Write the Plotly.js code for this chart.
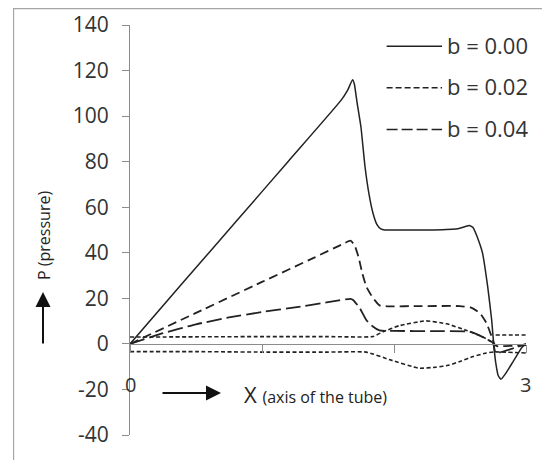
<!DOCTYPE html>
<html>
<head>
<meta charset="utf-8">
<script src="https://cdn.plot.ly/plotly-3.0.1.min.js"></script>
<style>
  html, body { margin: 0; padding: 0; background: #fff; }
  #chart { width: 542px; height: 460px; }
</style>
</head>
<body>
<div id="chart"></div>
<script>
// Pressure distribution P along the tube axis X

// b = 0.00 (solid)
const xB000 = [0, 0.4, 0.8, 1.2, 1.6, 1.65, 1.686, 1.70, 1.72, 1.75, 1.78, 1.81, 1.84, 1.87, 1.90, 1.93, 2.1, 2.3, 2.48, 2.54, 2.57, 2.60, 2.63, 2.67, 2.71, 2.74, 2.755, 2.77, 2.79, 2.81, 2.84, 2.90, 2.97, 3.0];
const pB000 = [0, 26.8, 53.5, 80.2, 107, 111.5, 116, 114, 106, 95, 78, 66, 57.6, 52.5, 50.5, 50, 50, 50, 50.5, 51.5, 52, 51, 47, 40, 25, 10.5, 0, -8, -14, -15.5, -13.5, -8, -1.5, 0];

// b = 0.02 (medium dash)
const xB002 = [0, 0.5, 1.0, 1.4, 1.6, 1.67, 1.70, 1.73, 1.76, 1.79, 1.84, 1.89, 1.95, 2.2, 2.5, 2.58, 2.65, 2.70, 2.74, 2.76, 2.78, 2.9, 3.0];
const pB002 = [0, 13.6, 27.2, 38, 43.5, 45.3, 43.5, 38.4, 31, 25.2, 20.2, 16.9, 16.5, 16.6, 16.6, 16, 13.6, 9.2, 3.2, 0, -1, -0.8, -0.5];

// b = 0.04 (long dash)
const xB004 = [0, 0.25, 0.5, 0.75, 1.0, 1.25, 1.5, 1.67, 1.69, 1.74, 1.79, 1.84, 1.89, 2.0, 2.3, 2.57, 2.65, 2.75, 2.77, 3.0];
const pB004 = [0, 4.7, 8.6, 11.6, 14, 16, 18.3, 19.8, 19.3, 15.8, 10.5, 7.6, 5.9, 5.7, 5.6, 5.4, 3.6, 0.4, -4, 0];

// upper and lower short-dash curves
const xUpper = [0, 0.5, 1.0, 1.5, 1.84, 1.92, 2.04, 2.24, 2.40, 2.55, 2.67, 2.755, 2.765, 2.77, 2.9, 3.0];
const pUpper = [3, 3.1, 3.2, 3.2, 3.2, 5.4, 8, 10.1, 8.8, 5.9, 3.2, 0.3, null, 3.9, 3.9, 3.9];
const xLower = [0, 0.5, 1.0, 1.5, 1.79, 1.97, 2.19, 2.32, 2.42, 2.5, 2.6, 2.7, 2.76, 3.0];
const pLower = [-3.4, -3.4, -3.6, -3.6, -3.6, -7, -10.7, -10.2, -9.3, -7.7, -5.5, -4, -3.5, -4];

const legendLabels = ['b = 0.00', 'b = 0.02', 'b = 0.04'];
const yTicks = [-40, -20, 0, 20, 40, 60, 80, 100, 120, 140];
const yTickText = ['-40', '-20', '0', '20', '40', '60', '80', '100', '120', '140'];
const xTicks = [0, 1, 2, 3];

const FONT = '"Open Sans", Lato, sans-serif';
const INK = '#222';

function curve(x, y, dash, width, name) {
  return {
    type: 'scatter', mode: 'lines', x: x, y: y, name: name,
    line: { color: INK, width: width, dash: dash, shape: 'spline', smoothing: 0.4 },
    connectgaps: false, showlegend: false, hoverinfo: 'skip'
  };
}

const traces = [
  curve(xLower, pLower, '4px,2.5px', 1.6, 'lower'),
  curve(xUpper, pUpper, '4px,2.5px', 1.6, 'upper'),
  curve(xB004, pB004, '15px,5px', 1.8, legendLabels[2]),
  curve(xB002, pB002, '9px,5px', 1.8, legendLabels[1]),
  curve(xB000, pB000, 'solid', 1.5, legendLabels[0])
];

// legend keys, drawn as short line samples beside their labels
const legendDash = ['solid', '6px,3px', '11px,4px'];
const legendRowY = [0.948, 0.847, 0.745];
const shapes = [
  { type: 'rect', xref: 'paper', yref: 'paper', x0: -0.294, x1: 1.2, y0: -0.3, y1: 1.040,
    line: { color: '#a6a6a6', width: 1.2 }, fillcolor: 'rgba(0,0,0,0)', layer: 'below' }
];
const annotations = [];
legendLabels.forEach((lab, i) => {
  shapes.push({ type: 'line', xref: 'paper', yref: 'paper', x0: 0.648, x1: 0.788,
    y0: legendRowY[i], y1: legendRowY[i], line: { color: INK, width: 1.5, dash: legendDash[i] } });
  annotations.push({ xref: 'paper', yref: 'paper', x: 0.796, y: legendRowY[i] + 0.004,
    xanchor: 'left', yanchor: 'middle', showarrow: false, text: lab,
    font: { family: FONT, size: 22, color: '#333' } });
});

annotations.push(
  { xref: 'paper', yref: 'paper', x: 0.0, y: 0.124, xanchor: 'center', yanchor: 'middle',
    showarrow: false, text: '0', font: { family: FONT, size: 20, color: '#333' } },
  { xref: 'paper', yref: 'paper', x: 0.9975, y: 0.124, xanchor: 'center', yanchor: 'middle',
    showarrow: false, text: '3', font: { family: FONT, size: 20, color: '#333' } },
  { xref: 'paper', yref: 'paper', x: 0.2298, y: 0.1024, ax: -60, ay: 0, text: '',
    showarrow: true, arrowhead: 2, arrowsize: 1.5, arrowwidth: 2, arrowcolor: '#111' },
  { xref: 'paper', yref: 'paper', x: 0.2828, y: 0.100, xanchor: 'left', yanchor: 'middle',
    showarrow: false, text: 'X <span style="font-size:16px">(axis of the tube)</span>',
    font: { family: FONT, size: 22, color: '#222' } },
  { xref: 'paper', yref: 'paper', x: -0.2197, y: 0.3488, ax: 0, ay: 53, text: '',
    showarrow: true, arrowhead: 2, arrowsize: 1.5, arrowwidth: 2, arrowcolor: '#111' },
  { xref: 'paper', yref: 'paper', x: -0.2172, y: 0.4878, xanchor: 'center', yanchor: 'middle',
    showarrow: false, textangle: -90, text: 'P (pressure)',
    font: { family: FONT, size: 16, color: '#222' } }
);

const layout = {
  width: 542, height: 460,
  margin: { l: 130, r: 16, t: 25, b: 25 },
  paper_bgcolor: '#fff', plot_bgcolor: '#fff',
  showlegend: false,
  font: { family: FONT, color: '#333' },
  xaxis: {
    range: [0, 3], anchor: 'free', position: 40 / 180,
    showline: true, linecolor: '#8c8c8c', linewidth: 1,
    ticks: 'outside', tickvals: xTicks, ticklen: 8, tickcolor: '#8c8c8c',
    showticklabels: false, showgrid: false, zeroline: false, fixedrange: true
  },
  yaxis: {
    range: [-40, 140], tickvals: yTicks, ticktext: yTickText,
    showline: true, linecolor: '#8c8c8c', linewidth: 1,
    ticks: 'outside', ticklen: 7, tickcolor: '#8c8c8c', ticklabelstandoff: 9,
    tickfont: { family: FONT, size: 21, color: '#333' },
    showgrid: false, zeroline: false, fixedrange: true
  },
  shapes: shapes,
  annotations: annotations
};

Plotly.newPlot('chart', traces, layout, { displayModeBar: false, staticPlot: true });
</script>
</body>
</html>
